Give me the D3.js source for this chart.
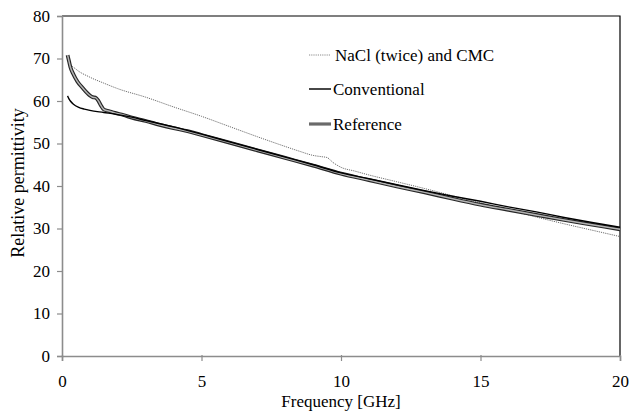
<!DOCTYPE html>
<html>
<head>
<meta charset="utf-8">
<script src="https://cdn.jsdelivr.net/npm/d3@7"></script>
<style>
  html, body { margin: 0; padding: 0; background: #fff; }
  svg { display: block; font-family: "Liberation Serif", "Times New Roman", serif; }
</style>
</head>
<body>
<svg id="chart" width="630" height="412"></svg>
<script>
// Relative permittivity vs frequency for three tissue-mimicking mixtures
const xTicks = [0, 5, 10, 15, 20];
const yTicks = [0, 10, 20, 30, 40, 50, 60, 70, 80];

const naclFreq = [0.2, 0.3, 0.5, 1, 1.5, 2, 3, 4, 5, 6, 7, 8, 8.5, 9, 9.3, 9.5, 9.7, 10, 10.5, 11, 12, 13, 14, 15, 16, 17, 18, 19, 20];
const naclVals = [70.5, 68.8, 67.5, 65.6, 64.2, 62.9, 60.9, 58.6, 56.4, 54.0, 51.6, 49.3, 48.2, 47.2, 46.9, 46.7, 45.6, 44.4, 43.5, 42.6, 41.0, 39.4, 37.7, 36.0, 34.4, 32.7, 31.1, 29.6, 28.1];

const convFreq = [0.2, 0.25, 0.3, 0.4, 0.6, 0.8, 1, 1.5, 2, 2.5, 3, 4, 5, 6, 7, 8, 9, 10, 11, 12, 13, 14, 15, 16, 17, 18, 19, 20];
const convVals = [61.2, 60.5, 60.0, 59.3, 58.5, 58.1, 57.8, 57.3, 56.8, 56.2, 55.4, 53.9, 52.2, 50.4, 48.6, 46.8, 45.0, 43.1, 41.7, 40.3, 38.9, 37.6, 36.4, 35.1, 33.9, 32.6, 31.4, 30.3];

const refFreq = [0.2, 0.25, 0.3, 0.4, 0.55, 0.75, 0.9, 1.0, 1.1, 1.2, 1.3, 1.4, 1.5, 1.7, 1.9, 2.2, 2.5, 3, 3.5, 4, 4.5, 5, 6, 7, 8, 9, 10, 11, 12, 13, 14, 15, 16, 17, 18, 19, 20];
const refVals = [70.8, 69.4, 68.0, 66.4, 64.6, 63.0, 61.9, 61.3, 60.9, 60.8, 60.1, 58.9, 58.0, 57.6, 57.2, 56.7, 56.1, 55.3, 54.4, 53.6, 52.9, 52.0, 50.2, 48.4, 46.6, 44.8, 42.9, 41.4, 39.9, 38.5, 37.0, 35.6, 34.4, 33.2, 32.0, 30.9, 29.8];

const seriesNames = ["NaCl (twice) and CMC", "Conventional", "Reference"];

const svg = d3.select("#chart");
const plotLeft = 62, plotRight = 620, plotTop = 16, plotBottom = 356;
const fontSize = "17px";

const x = d3.scaleLinear().domain([0, 20]).range([plotLeft, plotRight]);
const y = d3.scaleLinear().domain([0, 80]).range([plotBottom, plotTop]);

// plot frame: top and right edges in black
svg.append("path")
  .attr("d", `M${plotLeft},${plotTop}H${plotRight}V${plotBottom}`)
  .attr("fill", "none").attr("stroke", "#000").attr("stroke-width", 1.2);

// axes
const yAxis = svg.append("g").attr("transform", `translate(${plotLeft},0)`)
  .call(d3.axisLeft(y).tickValues(yTicks).tickSize(5).tickPadding(7).tickFormat(d3.format("d")));
const xAxis = svg.append("g").attr("transform", `translate(0,${plotBottom})`)
  .call(d3.axisBottom(x).tickValues(xTicks).tickSize(5).tickPadding(14).tickFormat(d3.format("d")));

[yAxis, xAxis].forEach(g => {
  g.select(".domain").attr("stroke", "#8c8c8c").attr("stroke-width", 1.6);
  g.selectAll(".tick line").attr("stroke", "#8c8c8c").attr("stroke-width", 1.2);
  g.selectAll(".tick text").attr("fill", "#000")
    .style("font-family", "'Liberation Serif', 'Times New Roman', serif")
    .style("font-size", fontSize);
});
// x tick line crosses the axis slightly upward
xAxis.selectAll(".tick line").attr("y1", -1);

// axis titles
svg.append("text")
  .attr("x", (plotLeft + plotRight) / 2).attr("y", 407)
  .attr("text-anchor", "middle").style("font-size", fontSize)
  .text("Frequency [GHz]");
svg.append("text")
  .attr("transform", `translate(24,183) rotate(-90)`)
  .attr("text-anchor", "middle").style("font-size", "18px")
  .text("Relative permittivity");

const line = d3.line().x(d => x(d[0])).y(d => y(d[1])).curve(d3.curveMonotoneX);
const zip = (fs, vs) => fs.map((f, i) => [f, vs[i]]);

// NaCl series: thin dotted grey
svg.append("path").datum(zip(naclFreq, naclVals))
  .attr("d", line).attr("fill", "none")
  .attr("stroke", "#6e6e6e").attr("stroke-width", 1).attr("stroke-dasharray", "1.2,1");

// Reference series: double-edged grey line
const refData = zip(refFreq, refVals);
svg.append("path").datum(refData)
  .attr("d", line).attr("fill", "none")
  .attr("stroke", "#262626").attr("stroke-width", 3.8);
svg.append("path").datum(refData)
  .attr("d", line).attr("fill", "none")
  .attr("stroke", "#b4b4b4").attr("stroke-width", 1.5);

// Conventional series: solid black
svg.append("path").datum(zip(convFreq, convVals))
  .attr("d", line).attr("fill", "none")
  .attr("stroke", "#000").attr("stroke-width", 1.4);

// legend
const legend = svg.append("g");
const legendRows = [
  { name: seriesNames[0], y: 55, tx: 335 },
  { name: seriesNames[1], y: 89, tx: 333 },
  { name: seriesNames[2], y: 124, tx: 333 }
];
legendRows.forEach((r, i) => {
  const l = legend.append("line")
    .attr("x1", 309).attr("x2", 331).attr("y1", r.y).attr("y2", r.y);
  if (i === 0) l.attr("stroke", "#8a8a8a").attr("stroke-width", 1).attr("stroke-dasharray", "1.2,1");
  if (i === 1) l.attr("stroke", "#333").attr("stroke-width", 1.8);
  if (i === 2) l.attr("stroke", "#6a6a6a").attr("stroke-width", 3.2);
  legend.append("text")
    .attr("x", r.tx).attr("y", r.y).attr("dy", "0.35em")
    .style("font-size", fontSize).text(r.name);
});
</script>
</body>
</html>
